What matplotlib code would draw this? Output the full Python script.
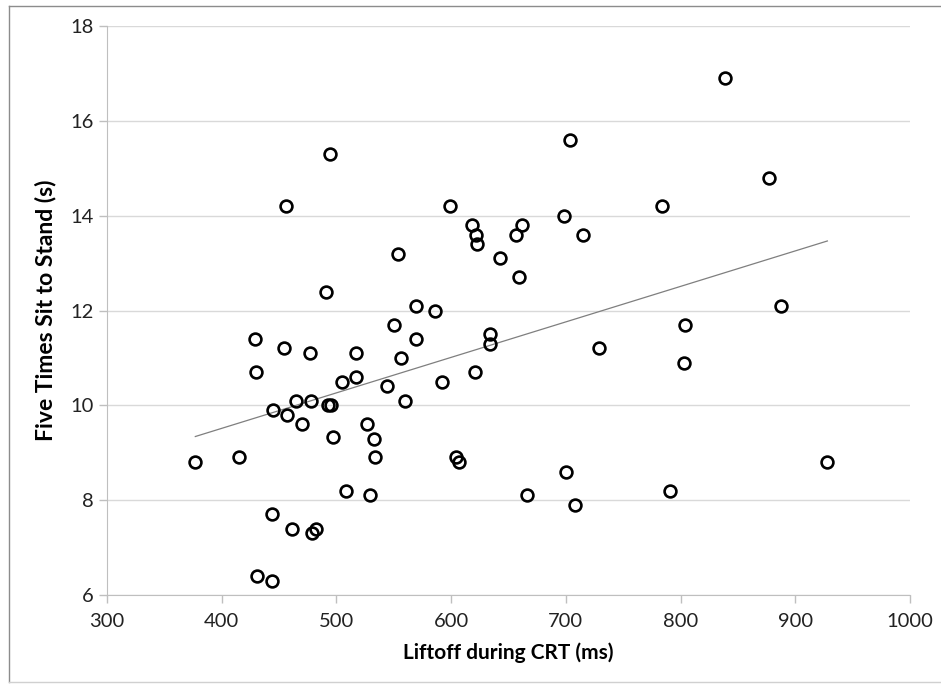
import numpy as np
import matplotlib
matplotlib.use("Agg")
import matplotlib.pyplot as plt
from matplotlib.lines import Line2D

# liftoff during chair rise test (ms) vs five times sit to stand (s)
liftoff = [377, 415, 429, 430, 431, 444, 444, 445, 454, 456, 457, 461, 465, 470,
           477, 478, 479, 482, 491, 493, 494, 495, 497, 505, 508, 517, 517, 527,
           529, 533, 534, 544, 550, 554, 556, 560, 569, 569, 586, 592, 599, 604,
           607, 618, 621, 622, 623, 634, 634, 643, 657, 659, 662, 666, 698, 700,
           704, 708, 715, 729, 784, 791, 803, 804, 839, 877, 888, 928]
ftsts = [8.8, 8.9, 11.4, 10.7, 6.4, 6.3, 7.7, 9.9, 11.2, 14.2, 9.8, 7.4, 10.1, 9.6,
         11.1, 10.1, 7.3, 7.4, 12.4, 10.0, 15.3, 10.0, 9.33, 10.5, 8.2, 11.1, 10.6, 9.6,
         8.1, 9.3, 8.9, 10.4, 11.7, 13.2, 11.0, 10.1, 12.1, 11.4, 12.0, 10.5, 14.2, 8.9,
         8.8, 13.8, 10.7, 13.6, 13.4, 11.5, 11.3, 13.1, 13.6, 12.7, 13.8, 8.1, 14.0, 8.6,
         15.6, 7.9, 13.6, 11.2, 14.2, 8.2, 10.9, 11.7, 16.9, 14.8, 12.1, 8.8]
xticks = [300, 400, 500, 600, 700, 800, 900, 1000]
yticks = [6, 8, 10, 12, 14, 16, 18]

plt.rcParams['font.family'] = ['Lato', 'DejaVu Sans']

fig = plt.figure(figsize=(9.41, 6.85), dpi=100)
ax = fig.add_axes([0.1137, 0.1314, 0.8533, 0.8306])

x = np.array(liftoff, dtype=float)
y = np.array(ftsts, dtype=float)

# linear trendline (least squares) over the data range
slope, icpt = np.polyfit(x, y, 1)
xl = np.array([x.min(), x.max()])
ax.plot(xl, slope * xl + icpt, color='#7f7f7f', lw=0.9, zorder=2)

ax.plot(x, y, linestyle='none', marker='o', markersize=8.5, markerfacecolor='none',
        markeredgecolor='black', markeredgewidth=1.9, zorder=3)

ax.set_xlim(300, 1000)
ax.set_ylim(6, 18)
ax.set_xticks(xticks)
ax.set_yticks(yticks)
ax.grid(axis='y', color='#d9d9d9', lw=1)
ax.set_axisbelow(True)
for s in ['top', 'right']:
    ax.spines[s].set_visible(False)
for s in ['left', 'bottom']:
    ax.spines[s].set_color('#bfbfbf')
ax.tick_params(axis='both', colors='#bfbfbf', labelcolor='#222222', labelsize=14.5,
               length=6, width=1, direction='out')
ax.tick_params(axis='x', pad=7)

ax.set_xlabel('Liftoff during CRT (ms)', fontsize=15, fontweight='bold', labelpad=9)
ax.set_ylabel('Five Times Sit to Stand (s)', fontsize=16.5, fontweight='bold', labelpad=10)

# frame edges of the picture (left, top, bottom; right is cut off)
fig.add_artist(Line2D([0.0096, 0.0096], [0.004, 0.991], transform=fig.transFigure,
                      color='#8c8c8c', lw=1))
fig.add_artist(Line2D([0.0096, 1.0], [0.991, 0.991], transform=fig.transFigure,
                      color='#8c8c8c', lw=1))
fig.add_artist(Line2D([0.0096, 1.0], [0.004, 0.004], transform=fig.transFigure,
                      color='#d0d0d0', lw=1))

fig.savefig('out.png', dpi=100)
